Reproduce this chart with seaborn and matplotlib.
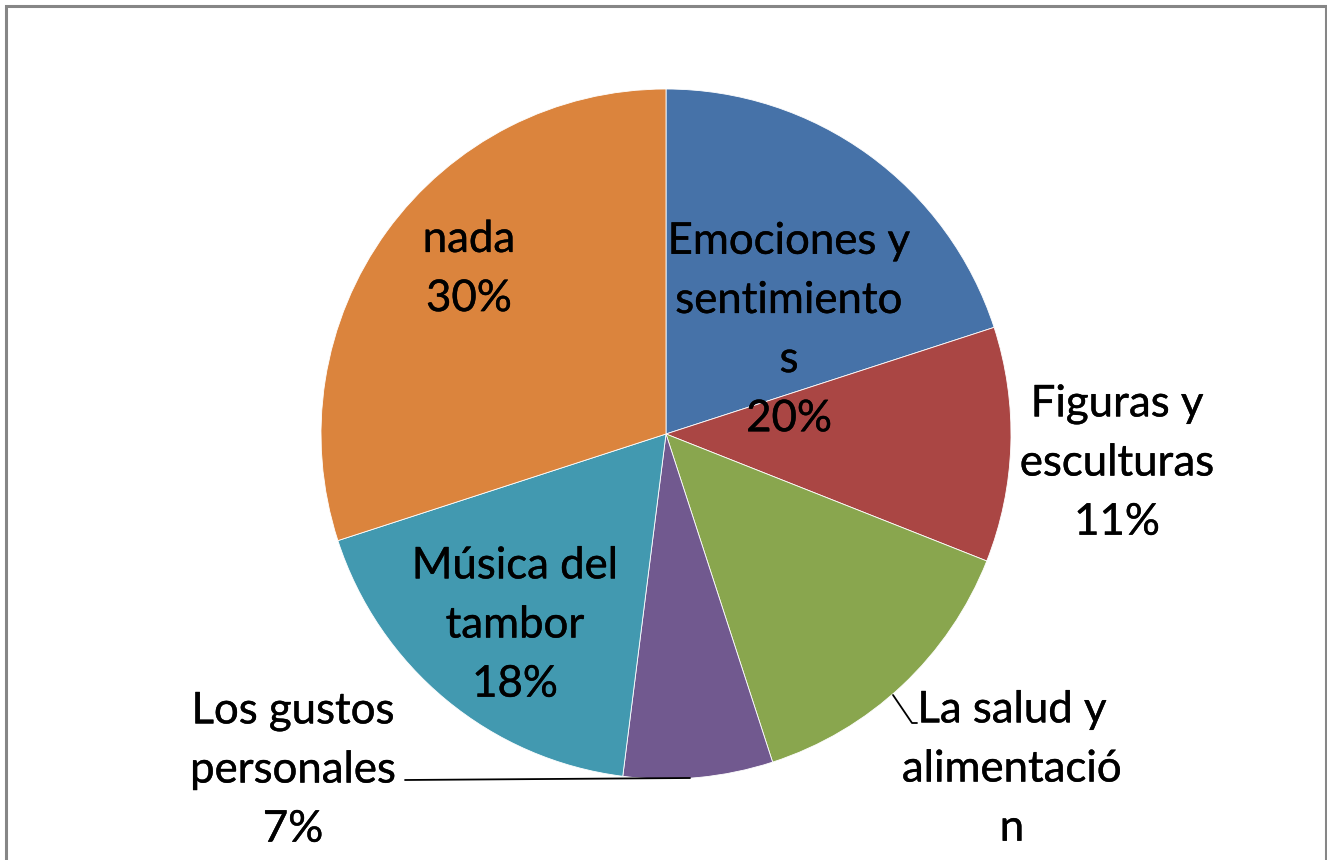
import matplotlib
matplotlib.use("Agg")
import matplotlib.pyplot as plt
import matplotlib.patheffects as pe
import seaborn as sns

# Survey answers and their shares (percent)
categories = [
    "Emociones y\nsentimiento\ns",
    "Figuras y\nesculturas",
    "La salud y\nalimentació\nn",
    "Los gustos\npersonales",
    "Música del\ntambor",
    "nada",
]
values = [20, 11, 14, 7, 18, 30]
show_pct = [True, True, False, True, True, True]
colors = ["#4672A8", "#AA4644", "#89A64E", "#71598F", "#4299B0", "#DB843D"]

sns.set_theme(style="white")
plt.rcParams["font.family"] = ["Lato", "DejaVu Sans"]

W, H = 1327, 860
fig = plt.figure(figsize=(W / 100, H / 100), dpi=100)
ax = fig.add_axes([0, 0, 1, 1])

center = (666, H - 434)
radius = 345
palette = sns.color_palette(colors)
ax.pie(
    values,
    colors=palette,
    startangle=90,
    counterclock=False,
    center=center,
    radius=radius,
    wedgeprops=dict(linewidth=0.6, edgecolor="white"),
    frame=True,
)
ax.set_xlim(0, W)
ax.set_ylim(0, H)
ax.set_aspect("equal")
ax.axis("off")

# Label anchor points (x, y from top) for each slice
label_pos = [
    (789, 330),
    (1117, 463),
    (1012, 769),
    (293, 770),
    (515, 625),
    (469, 269),
]
heavier = [pe.withStroke(linewidth=0.3, foreground="black")]
for name, v, shown, (x, y) in zip(categories, values, show_pct, label_pos):
    txt = f"{name}\n{v}%" if shown else name
    ax.text(x, H - y, txt, ha="center", va="center",
            multialignment="center", fontsize=31.5, linespacing=1.55,
            color="black", path_effects=heavier)

# Leader lines for labels outside the pie
ax.plot([405, 690], [H - 780, H - 778], color="black", lw=1.3)
ax.plot([893, 912, 917], [H - 695, H - 723, H - 723], color="black", lw=1.3)

# Chart-area border (bottom edge lies below the canvas)
border = plt.Rectangle((6, -10), 1319.5, H - 6 + 10, fill=False,
                       edgecolor="#868686", linewidth=2.2,
                       transform=ax.transData, clip_on=False)
ax.add_patch(border)

fig.savefig("out.png", dpi=100, facecolor="white")
